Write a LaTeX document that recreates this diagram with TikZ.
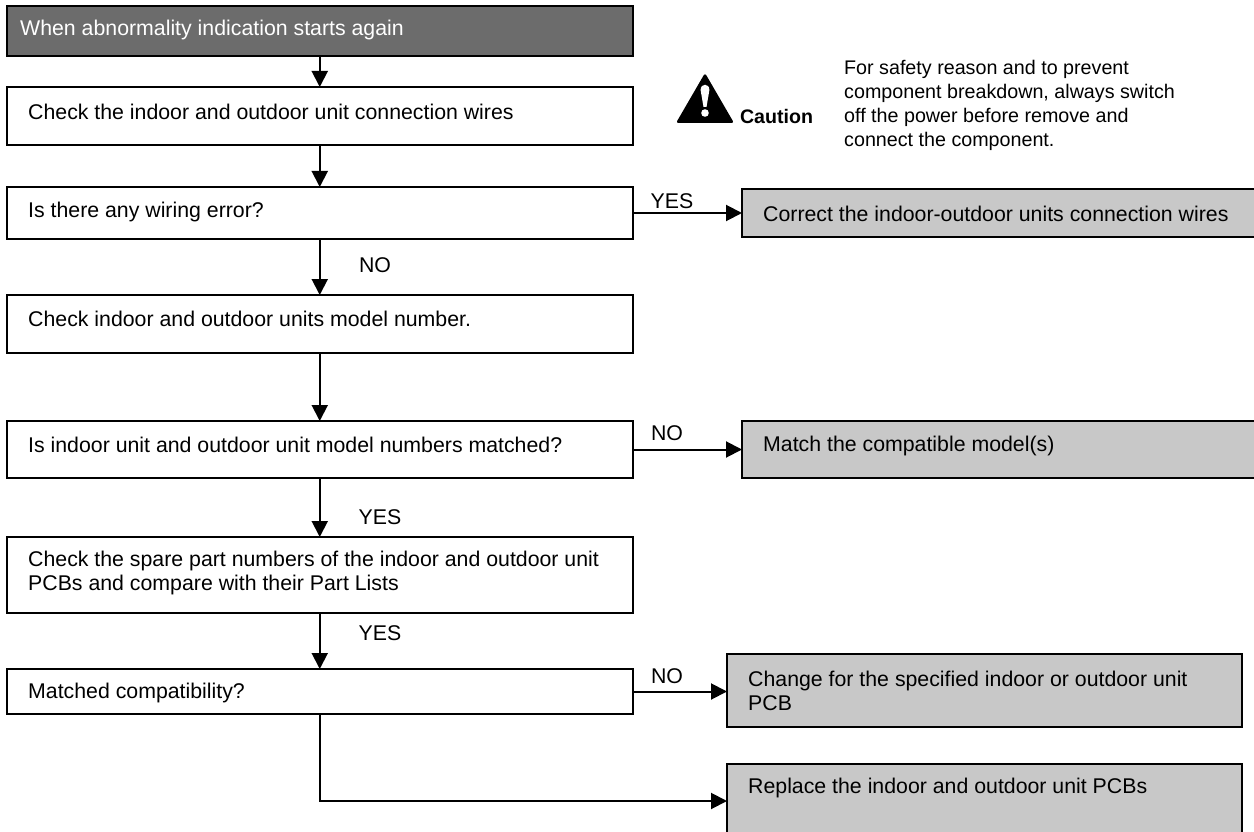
\documentclass[tikz,border=0pt]{standalone}
\usepackage{fontspec}
\setmainfont{Liberation Sans}
\usetikzlibrary{arrows.meta}
\definecolor{hdr}{HTML}{6C6C6C}
\definecolor{res}{HTML}{C8C8C8}
\tikzset{
 x=1pt,y=-1pt,
 every node/.style={font=\fontsize{21.3}{24}\selectfont},
 boxn/.style={draw=black,line width=2pt,anchor=north west,inner sep=0pt,outer sep=0pt},
 flow/.style={boxn,fill=white,minimum width=626.5pt},
 resn/.style={boxn,fill=res},
 txt/.style={anchor=west,inner sep=0pt,align=left},
 lbl/.style={anchor=center,inner sep=0pt},
 conn/.style={line width=2pt,-{Triangle[length=16pt,width=16pt]}}
}
\begin{document}
\begin{tikzpicture}
\useasboundingbox (0,0) rectangle (1254,832);
\clip (0,0) rectangle (1254,832);
% flow boxes
\node[boxn,fill=hdr,minimum width=626.5pt,minimum height=50pt] (b1) at (6.5,6) {};
\node[flow,minimum height=58pt] (b2) at (6.5,87) {};
\node[flow,minimum height=52pt] (b3) at (6.5,187) {};
\node[flow,minimum height=58pt] (b4) at (6.5,295) {};
\node[flow,minimum height=57pt] (b5) at (6.5,421) {};
\node[flow,minimum height=76pt] (b6) at (6.5,537) {};
\node[flow,minimum height=45pt] (b7) at (6.5,669) {};
% result boxes
\node[resn,minimum width=520pt,minimum height=48pt] (r1) at (742,189) {};
\node[resn,minimum width=520pt,minimum height=57pt] (r2) at (742,421) {};
\node[resn,minimum width=515pt,minimum height=73pt] (r3) at (727,654) {};
\node[resn,minimum width=515pt,minimum height=74pt] (r4) at (727,764) {};
% box texts
\node[txt,text=white] (t1) at (20,30) {When abnormality indication starts again};
\node[txt] (t2) at (28,112) {Check the indoor and outdoor unit connection wires};
\node[txt] (t3) at (28,212) {Is there any wiring error?};
\node[txt] (t4) at (28,319) {Check indoor and outdoor units model number.};
\node[txt] (t5) at (28,445) {Is indoor unit and outdoor unit model numbers matched?};
\node[txt] (t6) at (28,573) {Check the spare part numbers of the indoor and outdoor unit\\PCBs and compare with their Part Lists};
\node[txt] (t7) at (28,693) {Matched compatibility?};
\node[txt] (t8) at (763,214) {Correct the indoor-outdoor units connection wires};
\node[txt] (t9) at (763,446) {Match the compatible model(s)};
\node[txt] (t10) at (748,691) {Change for the specified indoor or outdoor unit\\PCB};
\node[txt] (t11) at (748,788) {Replace the indoor and outdoor unit PCBs};
% connectors
\draw[conn] (b1) -- (b2);
\draw[conn] (b2) -- (b3);
\draw[conn] (b3) -- (b4);
\draw[conn] (b4) -- (b5);
\draw[conn] (b5) -- (b6);
\draw[conn] (b6) -- (b7);
\draw[conn] (b3.east) -- (b3.east -| r1.west);
\draw[conn] (b5.east) -- (b5.east -| r2.west);
\draw[conn] (b7.east) -- (b7.east -| r3.west);
\draw[conn] (b7.south) |- (r4.west);
% connector labels
\node[lbl] (l1) at (672,201) {YES};
\node[lbl] (l2) at (375,265) {NO};
\node[lbl] (l3) at (667,433) {NO};
\node[lbl] (l4) at (380,517) {YES};
\node[lbl] (l5) at (380,633) {YES};
\node[lbl] (l6) at (667,676) {NO};
% caution
\fill[black,rounded corners=2.5pt] (705,73) -- (734,123) -- (676,123) -- cycle;
\fill[white] (700.6,90) .. controls (700.6,83) and (709.4,83) .. (709.4,90) -- (706.5,107) -- (703.5,107) -- cycle;
\fill[white] (705,113) circle (3.8);
\node[lbl,font=\bfseries\fontsize{19.6}{22}\selectfont] (c1) at (776.5,116) {Caution};
\node[txt,font=\fontsize{19.7}{24}\selectfont] (c2) at (844,105) {For safety reason and to prevent\\component breakdown, always switch\\off the power before remove and\\connect the component.};
\end{tikzpicture}
\end{document}
